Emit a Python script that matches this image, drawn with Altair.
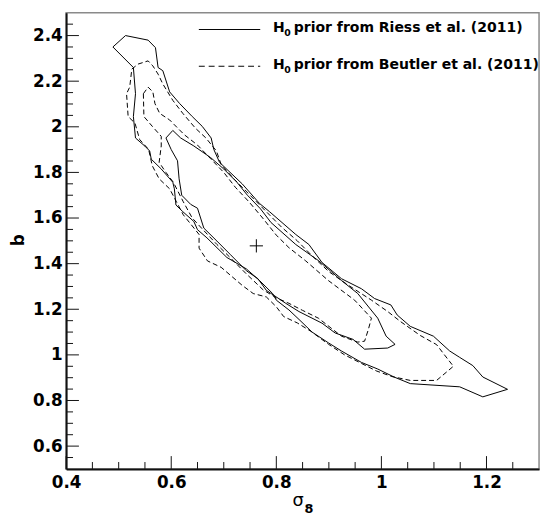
import altair as alt
import pandas as pd

# ---- contour data (sigma8, b) ----
riess95_s8 = [0.489, 0.513, 0.556, 0.570, 0.575, 0.584, 0.597, 0.616, 0.640, 0.659, 0.676, 0.681, 0.692,
              0.735, 0.768, 0.787, 0.837, 0.862, 0.887, 0.924, 0.962, 0.987, 1.018, 1.030, 1.055, 1.099,
              1.130, 1.149, 1.174, 1.193, 1.240, 1.193, 1.149, 1.055, 1.024, 0.993, 0.962, 0.924, 0.899,
              0.868, 0.847, 0.824, 0.800, 0.793, 0.768, 0.743, 0.706, 0.668, 0.650, 0.643, 0.622, 0.609,
              0.606, 0.603, 0.581, 0.562, 0.559, 0.550, 0.532, 0.528, 0.532, 0.528]
riess95_b = [2.350, 2.400, 2.380, 2.347, 2.260, 2.246, 2.153, 2.102, 2.045, 2.002, 1.951, 1.901, 1.844,
             1.750, 1.664, 1.628, 1.528, 1.484, 1.405, 1.334, 1.290, 1.247, 1.219, 1.175, 1.125, 1.082,
             1.017, 0.989, 0.953, 0.903, 0.849, 0.816, 0.860, 0.874, 0.903, 0.938, 0.967, 1.017, 1.053,
             1.100, 1.147, 1.197, 1.240, 1.269, 1.326, 1.377, 1.427, 1.513, 1.549, 1.585, 1.628, 1.657,
             1.728, 1.757, 1.815, 1.858, 1.894, 1.915, 1.951, 2.045, 2.145, 2.260]

riess68_s8 = [0.590, 0.603, 0.618, 0.643, 0.675, 0.700, 0.725, 0.745, 0.770, 0.790, 0.837, 0.881, 0.924,
              0.955, 0.993, 1.009, 1.026, 1.012, 0.968, 0.946, 0.912, 0.887, 0.843, 0.818, 0.800, 0.781,
              0.765, 0.743, 0.712, 0.687, 0.662, 0.650, 0.637, 0.620, 0.615, 0.612, 0.600]
riess68_b = [1.951, 1.984, 1.951, 1.916, 1.865, 1.815, 1.757, 1.700, 1.640, 1.580, 1.484, 1.412, 1.326,
             1.269, 1.161, 1.082, 1.046, 1.030, 1.025, 1.068, 1.096, 1.139, 1.190, 1.226, 1.254, 1.283,
             1.334, 1.369, 1.441, 1.499, 1.556, 1.643, 1.660, 1.700, 1.772, 1.851, 1.900]

beutler95_s8 = [0.525, 0.537, 0.556, 0.565, 0.575, 0.584, 0.603, 0.622, 0.646, 0.666, 0.686, 0.695, 0.720,
                0.750, 0.780, 0.810, 0.840, 0.870, 0.900, 0.934, 0.981, 1.012, 1.037, 1.074, 1.105, 1.120,
                1.137, 1.105, 1.055, 1.020, 0.990, 0.960, 0.930, 0.899, 0.866, 0.840, 0.814, 0.800, 0.781,
                0.756, 0.735, 0.695, 0.669, 0.653, 0.653, 0.623, 0.610, 0.597, 0.577, 0.564, 0.557, 0.540,
                0.531, 0.518, 0.515, 0.521]
beutler95_b = [2.253, 2.275, 2.289, 2.267, 2.231, 2.188, 2.116, 2.059, 1.994, 1.951, 1.894, 1.835, 1.770,
               1.700, 1.630, 1.560, 1.500, 1.430, 1.365, 1.310, 1.240, 1.190, 1.145, 1.085, 1.045, 1.000,
               0.950, 0.888, 0.888, 0.905, 0.930, 0.965, 1.000, 1.047, 1.103, 1.140, 1.168, 1.211, 1.254,
               1.269, 1.305, 1.384, 1.412, 1.468, 1.528, 1.614, 1.671, 1.728, 1.772, 1.829, 1.901, 1.944,
               2.016, 2.045, 2.145, 2.174]

beutler68_s8 = [0.547, 0.556, 0.565, 0.569, 0.578, 0.597, 0.606, 0.625, 0.650, 0.675, 0.700, 0.722, 0.748,
                0.774, 0.800, 0.824, 0.856, 0.899, 0.949, 0.981, 0.975, 0.968, 0.955, 0.924, 0.880, 0.850,
                0.824, 0.800, 0.775, 0.743, 0.712, 0.687, 0.660, 0.640, 0.623, 0.604, 0.590, 0.577, 0.581,
                0.581, 0.564, 0.548]
beutler68_b = [2.145, 2.174, 2.153, 2.102, 2.059, 2.030, 2.009, 1.965, 1.920, 1.860, 1.800, 1.735, 1.671,
               1.600, 1.525, 1.470, 1.412, 1.326, 1.240, 1.161, 1.110, 1.060, 1.056, 1.082, 1.161, 1.195,
               1.226, 1.250, 1.285, 1.355, 1.427, 1.484, 1.550, 1.600, 1.671, 1.757, 1.800, 1.844, 1.916,
               1.958, 2.002, 2.045]

best_s8 = [0.762]
best_b = [1.478]

x_labels = [0.4, 0.6, 0.8, 1.0, 1.2]
y_labels = [0.6, 0.8, 1.0, 1.2, 1.4, 1.6, 1.8, 2.0, 2.2, 2.4]
x_minor = [0.45, 0.5, 0.55, 0.65, 0.7, 0.75, 0.85, 0.9, 0.95, 1.05, 1.1, 1.15, 1.25]
y_minor = [0.55, 0.65, 0.7, 0.75, 0.85, 0.9, 0.95, 1.05, 1.1, 1.15, 1.25, 1.3, 1.35, 1.45, 1.5, 1.55,
           1.65, 1.7, 1.75, 1.85, 1.9, 1.95, 2.05, 2.1, 2.15, 2.25, 2.3, 2.35, 2.45]

legend_texts = ["prior from Riess et al. (2011)", "prior from Beutler et al. (2011)"]

W, H = 480, 463
FONT = "DejaVu Sans"

xs = alt.Scale(domain=[0.4, 1.3], nice=False, zero=False)
ys = alt.Scale(domain=[0.5, 2.5], nice=False, zero=False)

axis_common = dict(grid=False, ticks=False, domainColor="#111111", domainWidth=2,
                   labelFont=FONT, labelFontWeight="bold", labelFontSize=17, labelColor="black",
                   labelFlush=False, labelOverlap=False, format="~g", title=None)
X_AXIS = alt.Axis(values=x_labels, labelPadding=6, **axis_common)
Y_AXIS = alt.Axis(values=y_labels, labelPadding=4, **axis_common)


def X(f):
    return alt.X(f, scale=xs, axis=X_AXIS)


def Y(f):
    return alt.Y(f, scale=ys, axis=Y_AXIS)


def closed(name, sx, sb):
    sx = list(sx) + [sx[0]]
    sb = list(sb) + [sb[0]]
    return pd.DataFrame({"s8": sx, "b": sb, "i": list(range(len(sx))), "c": name})


solid_df = pd.concat([closed("r95", riess95_s8, riess95_b), closed("r68", riess68_s8, riess68_b)])
dashed_df = pd.concat([closed("b95", beutler95_s8, beutler95_b), closed("b68", beutler68_s8, beutler68_b)])

solid = alt.Chart(solid_df).mark_line(color="black", strokeWidth=1).encode(
    x=X("s8:Q"), y=Y("b:Q"), detail="c:N", order="i:Q")

dashed = alt.Chart(dashed_df).mark_line(color="black", strokeWidth=1, strokeDash=[5, 3]).encode(
    x=X("s8:Q"), y=Y("b:Q"), detail="c:N", order="i:Q")

best = alt.Chart(pd.DataFrame({"s8": best_s8, "b": best_b})).mark_point(
    shape="M-1,0L1,0M0,-1L0,1", size=180, filled=False, color="black", strokeWidth=1, opacity=1).encode(
    x=X("s8:Q"), y=Y("b:Q"))


def xticks(vals, length):
    return alt.Chart(pd.DataFrame({"v": vals})).mark_rule(color="#111111", strokeWidth=1).encode(
        x=X("v:Q"), y=alt.value(H), y2=alt.value(H - length))


def yticks(vals, length):
    return alt.Chart(pd.DataFrame({"v": vals})).mark_rule(color="#111111", strokeWidth=1).encode(
        y=Y("v:Q"), x=alt.value(0), x2=alt.value(length))


ticks = [xticks(x_labels, 13), xticks(x_minor, 7), yticks(y_labels, 13), yticks(y_minor, 7)]

# ---- legend ----
leg_y = [17, 54.3]
leg_solid = alt.Chart(pd.DataFrame({"k": [0]})).mark_rule(color="black", strokeWidth=1).encode(
    x=alt.value(134.7), x2=alt.value(197), y=alt.value(leg_y[0]))
leg_dash = alt.Chart(pd.DataFrame({"k": [0]})).mark_rule(color="black", strokeWidth=1, strokeDash=[6, 4]).encode(
    x=alt.value(134.7), x2=alt.value(197), y=alt.value(leg_y[1]))


def txt(t, x, y, size, weight="bold", align="left", angle=0, baseline="middle"):
    return alt.Chart(pd.DataFrame({"t": [t]})).mark_text(
        font=FONT, fontSize=size, fontWeight=weight, align=align, baseline=baseline,
        angle=angle, color="black").encode(text="t:N", x=alt.value(x), y=alt.value(y))


legend_layers = [leg_solid, leg_dash]
for k, ly in enumerate(leg_y):
    legend_layers += [txt("H", 210, ly - 1, 14.2), txt("0", 221.5, ly + 3.5, 9.5),
                      txt(legend_texts[k], 231, ly - 1, 14.2)]

titles = [txt("σ", 235.5, 501, 18, weight="normal", align="center", baseline="alphabetic"),
          txt("8", 246.5, 508, 13, align="center", baseline="alphabetic"),
          txt("b", -48, 231, 17, align="center", angle=270)]

chart = alt.layer(solid, dashed, best, *ticks, *legend_layers, *titles).properties(
    width=W, height=H,
    autosize=alt.AutoSizeParams(type="none"),
    padding={"left": 59, "top": 1, "right": 3, "bottom": 47},
).configure_view(stroke="#8a8a8a", strokeWidth=1.5)

chart.save("out.html", embed_options={"renderer": "svg", "actions": False})
